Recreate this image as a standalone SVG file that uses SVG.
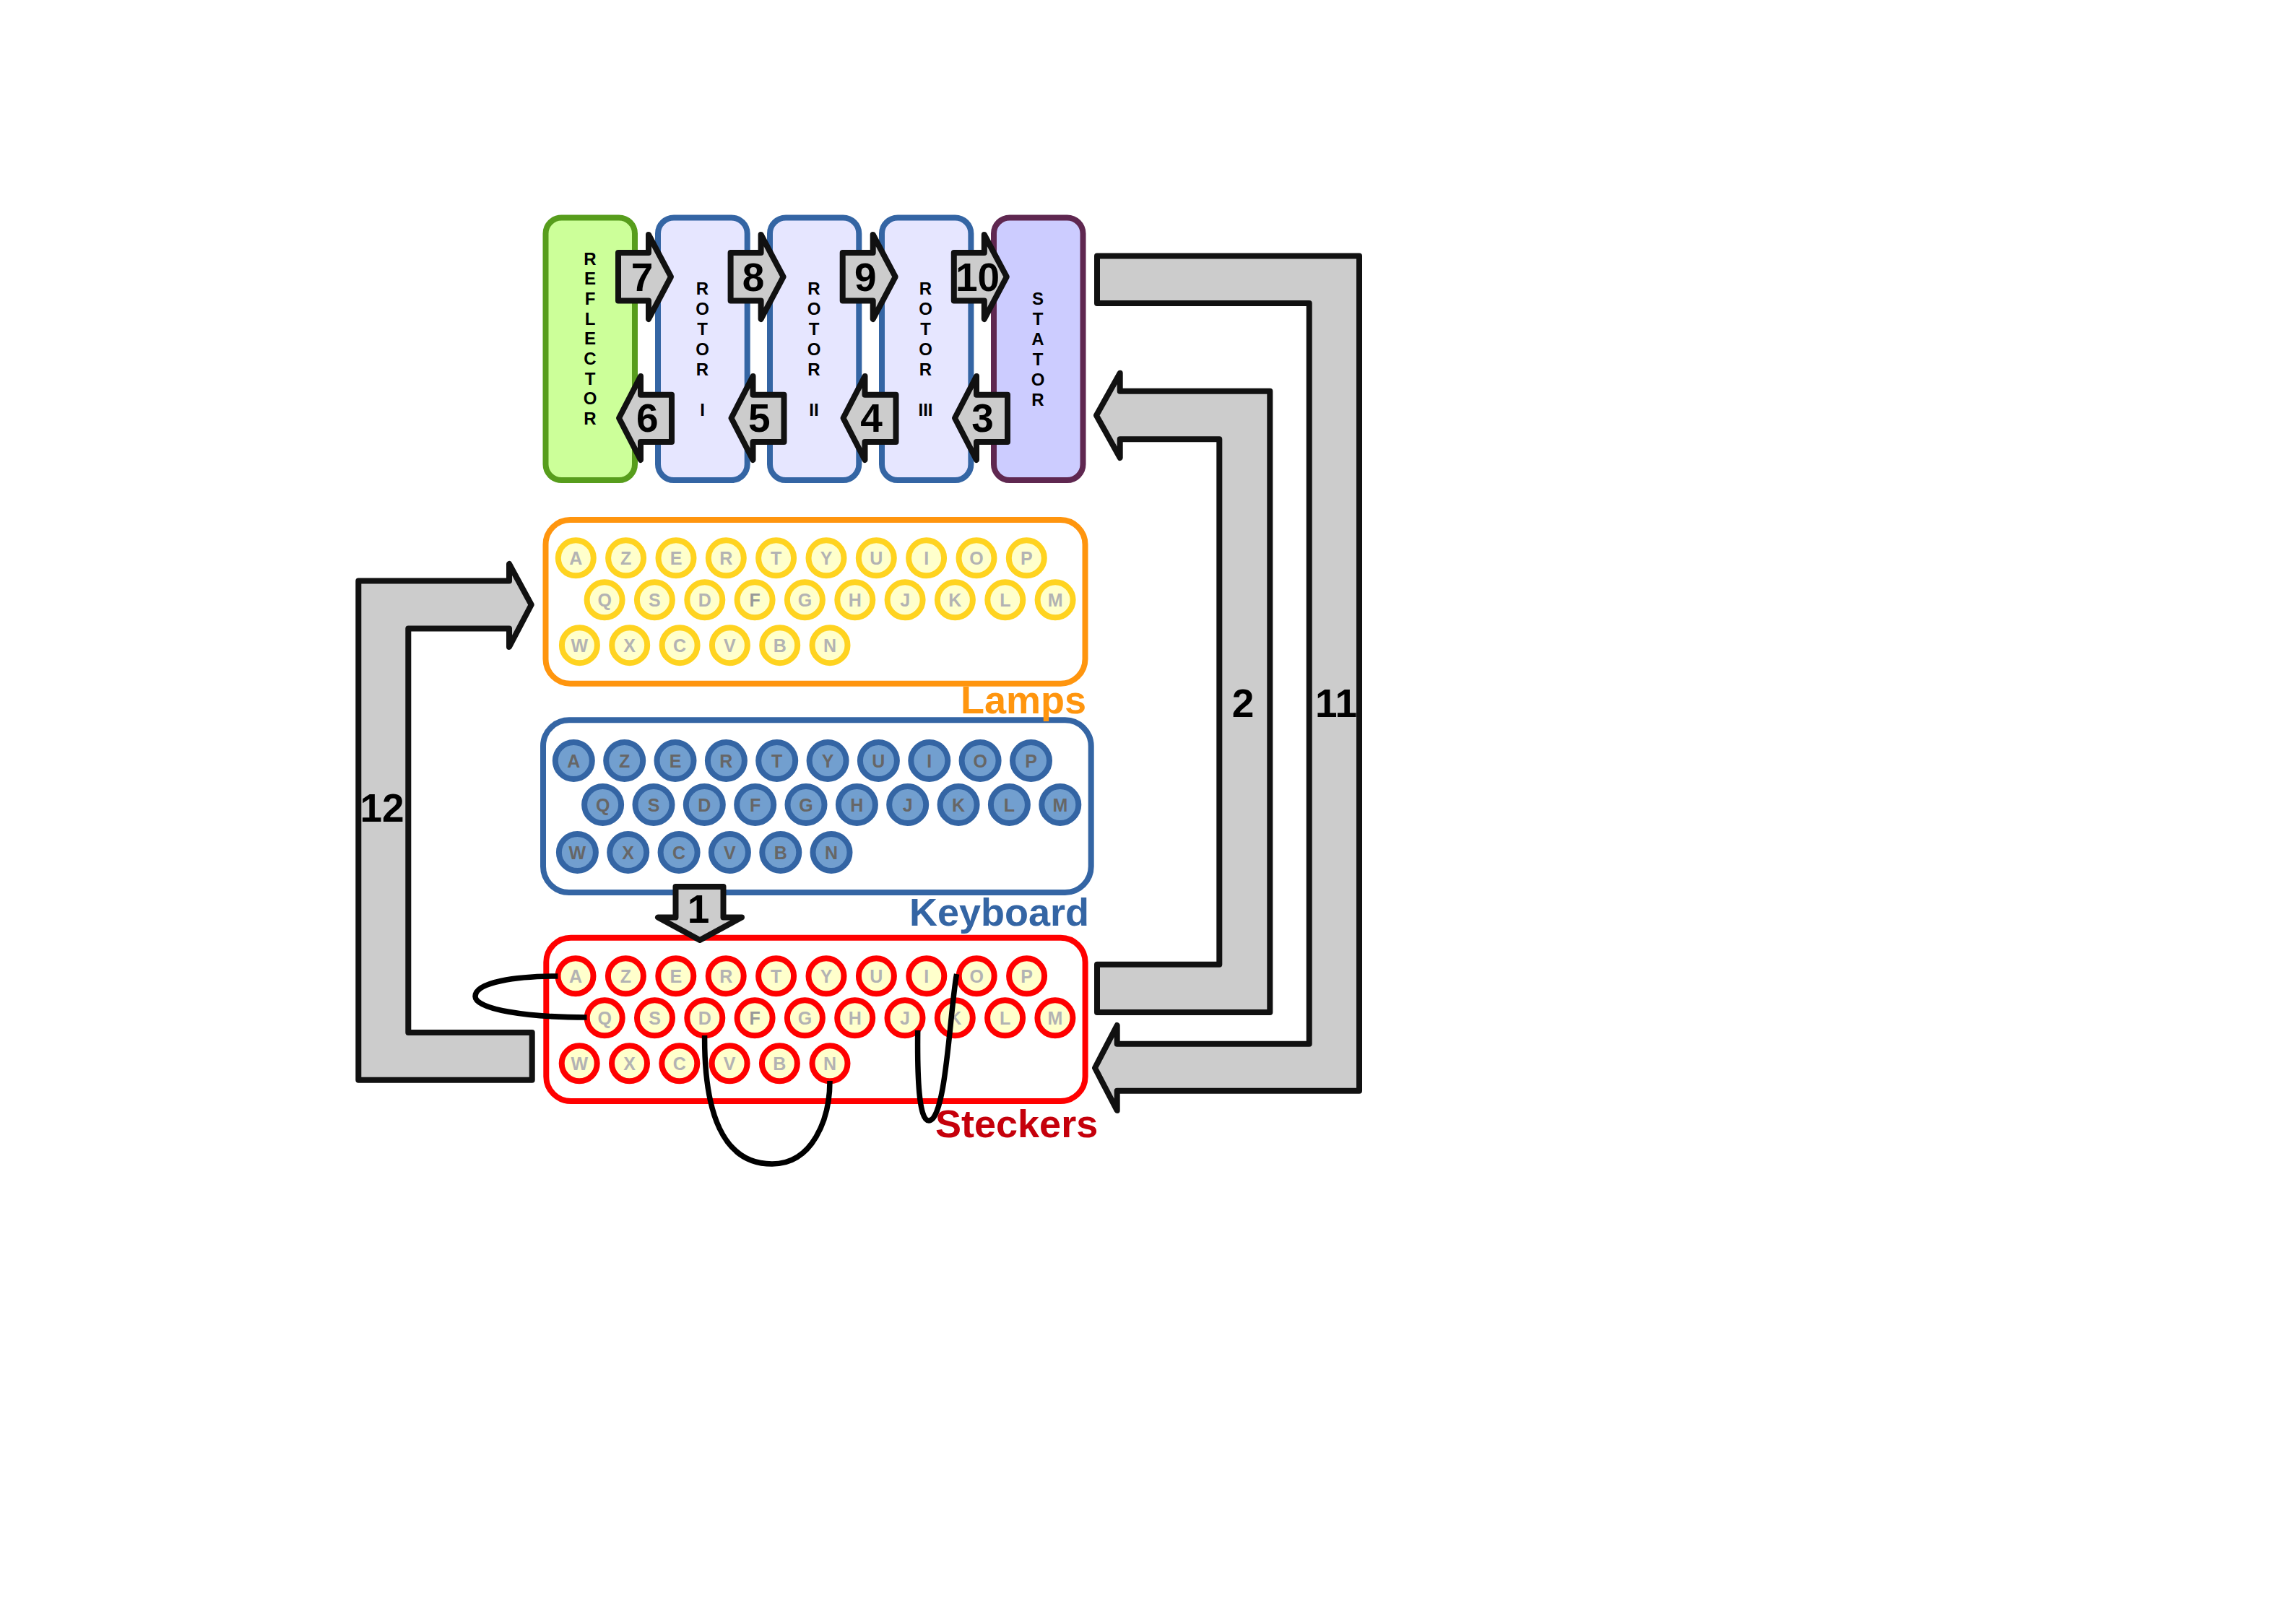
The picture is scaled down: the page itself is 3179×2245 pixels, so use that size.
<svg xmlns="http://www.w3.org/2000/svg" width="3179" height="2245" viewBox="0 0 3179 2245">
<style>
text{font-family:"Liberation Sans",Arial,sans-serif;font-weight:bold;text-anchor:middle}
.box{stroke-width:8}
.drum{font-size:24px;fill:#000}
.arrow{fill:#ccc;stroke:#111;stroke-width:8;stroke-linejoin:round}
.num{font-size:55px;fill:#000}
.wire{fill:none;stroke:#000;stroke-width:7.5}
.label{font-size:54px;text-anchor:start}
.key use{stroke-width:8}
.key text{font-size:25px}
.lamp use{fill:#ffc;stroke:#ffd320}
.lamp text,.steck text{fill:#b3b3b3}
.kb use{fill:#729fcf;stroke:#3465a4}
.kb text{fill:#666}
.steck use{fill:#ffc;stroke:#f00}
.rotor{fill:#e6e6ff;stroke:#3465a4}
</style>
<defs>
<circle id="lk" r="24.5"/>
<circle id="kk" r="25.5"/>
</defs>
<g id="reflector"><rect class="box" x="755.5" y="301.5" width="123.5" height="363.5" rx="22" fill="#cf9" stroke="#579d1c"/>
<text class="drum" x="817" y="366.7">R</text><text class="drum" x="817" y="394.4">E</text><text class="drum" x="817" y="422">F</text><text class="drum" x="817" y="449.7">L</text><text class="drum" x="817" y="477.4">E</text><text class="drum" x="817" y="505">C</text><text class="drum" x="817" y="532.7">T</text><text class="drum" x="817" y="560.4">O</text><text class="drum" x="817" y="588">R</text></g>
<g id="rotor1"><rect class="box rotor" x="911" y="301.5" width="123.7" height="363.5" rx="22"/>
<text class="drum" x="972.5" y="408.3">R</text><text class="drum" x="972.5" y="436">O</text><text class="drum" x="972.5" y="464">T</text><text class="drum" x="972.5" y="492">O</text><text class="drum" x="972.5" y="520">R</text><text class="drum" x="972.5" y="575.5">I</text></g>
<g id="rotor2"><rect class="box rotor" x="1066" y="301.5" width="123.3" height="363.5" rx="22"/>
<text class="drum" x="1127" y="408.3">R</text><text class="drum" x="1127" y="436">O</text><text class="drum" x="1127" y="464">T</text><text class="drum" x="1127" y="492">O</text><text class="drum" x="1127" y="520">R</text><text class="drum" x="1127" y="575.5">II</text></g>
<g id="rotor3"><rect class="box rotor" x="1221" y="301.5" width="123.4" height="363.5" rx="22"/>
<text class="drum" x="1281.5" y="408.3">R</text><text class="drum" x="1281.5" y="436">O</text><text class="drum" x="1281.5" y="464">T</text><text class="drum" x="1281.5" y="492">O</text><text class="drum" x="1281.5" y="520">R</text><text class="drum" x="1281.5" y="575.5">III</text></g>
<g id="stator"><rect class="box" x="1376" y="301.5" width="123.5" height="363.5" rx="22" fill="#ccf" stroke="#5f2750"/>
<text class="drum" x="1437" y="421.7">S</text><text class="drum" x="1437" y="450">T</text><text class="drum" x="1437" y="477.7">A</text><text class="drum" x="1437" y="506">T</text><text class="drum" x="1437" y="534">O</text><text class="drum" x="1437" y="561.7">R</text></g>

<g id="lamps"><rect class="box" x="755.5" y="720" width="747" height="226.7" rx="34" fill="#fff" stroke="#ff950e"/>
<g class="key lamp">
<g transform="translate(797.3 772.8)"><use href="#lk"/><text y="9">A</text></g>
<g transform="translate(866.6 772.8)"><use href="#lk"/><text y="9">Z</text></g>
<g transform="translate(936 772.8)"><use href="#lk"/><text y="9">E</text></g>
<g transform="translate(1005.3 772.8)"><use href="#lk"/><text y="9">R</text></g>
<g transform="translate(1074.6 772.8)"><use href="#lk"/><text y="9">T</text></g>
<g transform="translate(1144 772.8)"><use href="#lk"/><text y="9">Y</text></g>
<g transform="translate(1213.3 772.8)"><use href="#lk"/><text y="9">U</text></g>
<g transform="translate(1282.6 772.8)"><use href="#lk"/><text y="9">I</text></g>
<g transform="translate(1352 772.8)"><use href="#lk"/><text y="9">O</text></g>
<g transform="translate(1421.3 772.8)"><use href="#lk"/><text y="9">P</text></g>
<g transform="translate(837.1 830.8)"><use href="#lk"/><text y="9">Q</text></g>
<g transform="translate(906.4 830.8)"><use href="#lk"/><text y="9">S</text></g>
<g transform="translate(975.8 830.8)"><use href="#lk"/><text y="9">D</text></g>
<g transform="translate(1045.1 830.8)"><use href="#lk"/><text y="9" style="fill:#999">F</text></g>
<g transform="translate(1114.4 830.8)"><use href="#lk"/><text y="9">G</text></g>
<g transform="translate(1183.8 830.8)"><use href="#lk"/><text y="9">H</text></g>
<g transform="translate(1253.1 830.8)"><use href="#lk"/><text y="9">J</text></g>
<g transform="translate(1322.4 830.8)"><use href="#lk"/><text y="9">K</text></g>
<g transform="translate(1391.8 830.8)"><use href="#lk"/><text y="9">L</text></g>
<g transform="translate(1461.1 830.8)"><use href="#lk"/><text y="9">M</text></g>
<g transform="translate(802.4 893.7)"><use href="#lk"/><text y="9">W</text></g>
<g transform="translate(871.7 893.7)"><use href="#lk"/><text y="9">X</text></g>
<g transform="translate(941.1 893.7)"><use href="#lk"/><text y="9">C</text></g>
<g transform="translate(1010.4 893.7)"><use href="#lk"/><text y="9">V</text></g>
<g transform="translate(1079.7 893.7)"><use href="#lk"/><text y="9">B</text></g>
<g transform="translate(1149 893.7)"><use href="#lk"/><text y="9">N</text></g>
</g></g>

<g id="keyboard"><rect class="box" x="752" y="997.3" width="758.7" height="238.7" rx="36" fill="#fff" stroke="#3465a4"/>
<g class="key kb">
<g transform="translate(794.3 1053.5)"><use href="#kk"/><text y="9">A</text></g>
<g transform="translate(864.7 1053.5)"><use href="#kk"/><text y="9">Z</text></g>
<g transform="translate(935 1053.5)"><use href="#kk"/><text y="9">E</text></g>
<g transform="translate(1005.4 1053.5)"><use href="#kk"/><text y="9">R</text></g>
<g transform="translate(1075.7 1053.5)"><use href="#kk"/><text y="9">T</text></g>
<g transform="translate(1146.1 1053.5)"><use href="#kk"/><text y="9">Y</text></g>
<g transform="translate(1216.4 1053.5)"><use href="#kk"/><text y="9">U</text></g>
<g transform="translate(1286.8 1053.5)"><use href="#kk"/><text y="9">I</text></g>
<g transform="translate(1357.1 1053.5)"><use href="#kk"/><text y="9">O</text></g>
<g transform="translate(1427.5 1053.5)"><use href="#kk"/><text y="9">P</text></g>
<g transform="translate(834.6 1114.5)"><use href="#kk"/><text y="9">Q</text></g>
<g transform="translate(905 1114.5)"><use href="#kk"/><text y="9">S</text></g>
<g transform="translate(975.3 1114.5)"><use href="#kk"/><text y="9">D</text></g>
<g transform="translate(1045.7 1114.5)"><use href="#kk"/><text y="9">F</text></g>
<g transform="translate(1116 1114.5)"><use href="#kk"/><text y="9">G</text></g>
<g transform="translate(1186.4 1114.5)"><use href="#kk"/><text y="9">H</text></g>
<g transform="translate(1256.7 1114.5)"><use href="#kk"/><text y="9">J</text></g>
<g transform="translate(1327.1 1114.5)"><use href="#kk"/><text y="9">K</text></g>
<g transform="translate(1397.4 1114.5)"><use href="#kk"/><text y="9">L</text></g>
<g transform="translate(1467.8 1114.5)"><use href="#kk"/><text y="9">M</text></g>
<g transform="translate(799.4 1180.5)"><use href="#kk"/><text y="9">W</text></g>
<g transform="translate(869.7 1180.5)"><use href="#kk"/><text y="9">X</text></g>
<g transform="translate(940.1 1180.5)"><use href="#kk"/><text y="9">C</text></g>
<g transform="translate(1010.4 1180.5)"><use href="#kk"/><text y="9">V</text></g>
<g transform="translate(1080.8 1180.5)"><use href="#kk"/><text y="9">B</text></g>
<g transform="translate(1151 1180.5)"><use href="#kk"/><text y="9">N</text></g>
</g></g>

<g id="steckers"><rect class="box" x="756.3" y="1298.7" width="746.3" height="226.3" rx="34" fill="#fff" stroke="#f00"/>
<g class="key steck">
<g transform="translate(797 1351.8)"><use href="#lk"/><text y="9">A</text></g>
<g transform="translate(866.4 1351.8)"><use href="#lk"/><text y="9">Z</text></g>
<g transform="translate(935.8 1351.8)"><use href="#lk"/><text y="9">E</text></g>
<g transform="translate(1005.2 1351.8)"><use href="#lk"/><text y="9">R</text></g>
<g transform="translate(1074.6 1351.8)"><use href="#lk"/><text y="9">T</text></g>
<g transform="translate(1144 1351.8)"><use href="#lk"/><text y="9">Y</text></g>
<g transform="translate(1213.4 1351.8)"><use href="#lk"/><text y="9">U</text></g>
<g transform="translate(1282.8 1351.8)"><use href="#lk"/><text y="9">I</text></g>
<g transform="translate(1352.2 1351.8)"><use href="#lk"/><text y="9">O</text></g>
<g transform="translate(1421.6 1351.8)"><use href="#lk"/><text y="9">P</text></g>
<g transform="translate(837.2 1409.8)"><use href="#lk"/><text y="9">Q</text></g>
<g transform="translate(906.5 1409.8)"><use href="#lk"/><text y="9">S</text></g>
<g transform="translate(975.8 1409.8)"><use href="#lk"/><text y="9">D</text></g>
<g transform="translate(1045.1 1409.8)"><use href="#lk"/><text y="9" style="fill:#999">F</text></g>
<g transform="translate(1114.4 1409.8)"><use href="#lk"/><text y="9">G</text></g>
<g transform="translate(1183.7 1409.8)"><use href="#lk"/><text y="9">H</text></g>
<g transform="translate(1253 1409.8)"><use href="#lk"/><text y="9">J</text></g>
<g transform="translate(1322.3 1409.8)"><use href="#lk"/><text y="9">K</text></g>
<g transform="translate(1391.6 1409.8)"><use href="#lk"/><text y="9">L</text></g>
<g transform="translate(1460.9 1409.8)"><use href="#lk"/><text y="9">M</text></g>
<g transform="translate(802.2 1472.8)"><use href="#lk"/><text y="9">W</text></g>
<g transform="translate(871.5 1472.8)"><use href="#lk"/><text y="9">X</text></g>
<g transform="translate(940.8 1472.8)"><use href="#lk"/><text y="9">C</text></g>
<g transform="translate(1010.1 1472.8)"><use href="#lk"/><text y="9">V</text></g>
<g transform="translate(1079.4 1472.8)"><use href="#lk"/><text y="9">B</text></g>
<g transform="translate(1149 1472.8)"><use href="#lk"/><text y="9">N</text></g>
</g></g>

<g id="connectors">
<path class="arrow" d="M856 350H898V325L929 383.3L898 442V416.5H856Z"/>
<path class="arrow" d="M1011.6 350H1053.6V325L1084.6 383.3L1053.6 442V416.5H1011.6Z"/>
<path class="arrow" d="M1166.7 350H1208.7V325L1239.7 383.3L1208.7 442V416.5H1166.7Z"/>
<path class="arrow" d="M1320.8 350H1362.8V325L1393.8 383.3L1362.8 442V416.5H1320.8Z"/>
<path class="arrow" d="M930 546.7H887V521L857 579L887 637V612H930Z"/>
<path class="arrow" d="M1085.5 546.7H1042.5V521L1012.5 579L1042.5 637V612H1085.5Z"/>
<path class="arrow" d="M1240.5 546.7H1197.5V521L1167.5 579L1197.5 637V612H1240.5Z"/>
<path class="arrow" d="M1395 546.7H1352V521L1322 579L1352 637V612H1395Z"/>
<path class="arrow" d="M935.5 1228H1001.5V1270.5H1027L969 1302L911 1270.5H935.5Z"/>
<path class="arrow" d="M1519 354.5H1882V1510.7H1546.7V1538L1516 1479L1546.7 1420V1445.7H1812.7V420H1519Z"/>
<path class="arrow" d="M1519 1402H1758.3V541.7H1550.7V516.7L1518 575.3L1550.7 634V608.3H1688.3V1335.7H1519Z"/>
<path class="arrow" d="M736.7 1430H565.3V870.5H705V896L735.7 837.5L705 781V804.6H496.3V1495.8H736.7Z"/>
<path class="wire" d="M772.4 1352C715 1352 658 1360 658 1380C658 1398 730 1409 812.5 1409"/>
<path class="wire" d="M975.6 1434C975 1540 1000 1612 1069 1612C1125 1612 1149 1550 1149 1497"/>
<path class="wire" d="M1270.7 1427C1270 1490 1272 1552 1286 1552C1310 1552 1315 1400 1324.6 1349"/>
<text class="num" x="889" y="402.7">7</text>
<text class="num" x="1043" y="402.7">8</text>
<text class="num" x="1198.4" y="402.7">9</text>
<text class="num" x="1353.5" y="402.7">10</text>
<text class="num" x="896.3" y="598">6</text>
<text class="num" x="1051.4" y="598">5</text>
<text class="num" x="1206.5" y="598">4</text>
<text class="num" x="1360.6" y="598">3</text>
<text class="num" x="967" y="1278">1</text>
<text class="num" x="1721" y="992.7">2</text>
<text class="num" x="1850" y="992.7">11</text>
<text class="num" x="529" y="1138">12</text>
</g>
<text class="label" x="1330" y="988.3" fill="#ff950e">Lamps</text>
<text class="label" x="1259" y="1282.3" fill="#3465a4">Keyboard</text>
<text class="label" x="1295" y="1575" fill="#c5000b">Steckers</text>
</svg>
